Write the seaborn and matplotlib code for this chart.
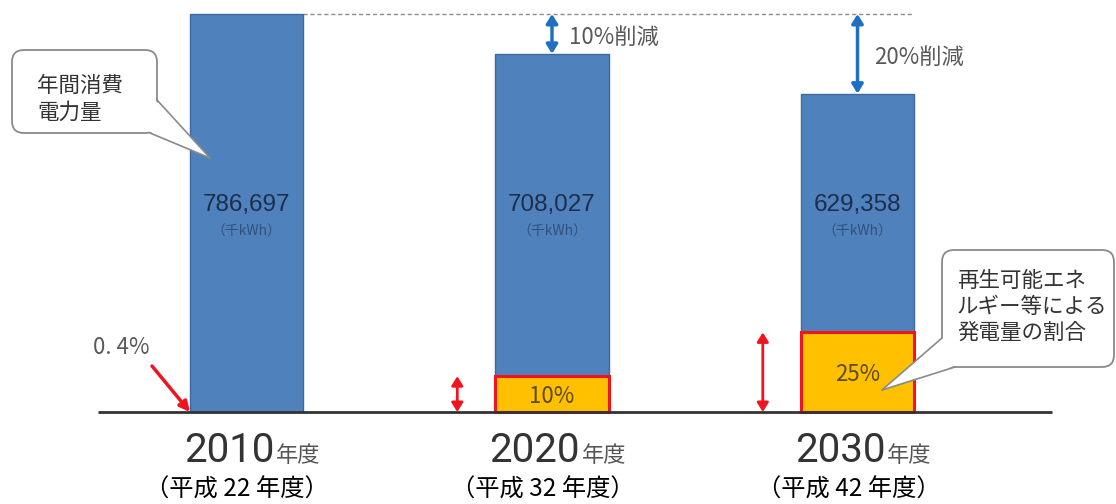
import numpy as np
import pandas as pd
import matplotlib
matplotlib.use("Agg")
import matplotlib.pyplot as plt
import matplotlib.transforms as mtransforms
from matplotlib.patches import FancyBboxPatch, Polygon
from matplotlib.lines import Line2D
import seaborn as sns

# ---------------- data ----------------
years = ["2010", "2020", "2030"]
heisei = ["（平成 22 年度）", "（平成 32 年度）", "（平成 42 年度）"]
consumption = [786697, 708027, 629358]          # 年間消費電力量（千kWh）
value_labels = ["786,697", "708,027", "629,358"]
renewable_share = [0.4, 10, 25]                  # 再生可能エネルギー等による発電量の割合（%）
reduction_pct = [0, 10, 20]                      # 2010年度比 削減率（%）

# ---------------- style ----------------
sns.set_theme(style="white")
plt.rcParams["font.family"] = ["Noto Sans CJK JP", "DejaVu Sans"]

W, H = 1116, 504
fig = plt.figure(figsize=(W / 100, H / 100), dpi=100)
ax = fig.add_axes([0, 0, 1, 1])

df = pd.DataFrame({"year": years, "kwh": consumption, "share": renewable_share})
df["renew"] = [c * s / 100 if s >= 1 else np.nan for c, s in zip(consumption, renewable_share)]

BAR_W = 0.37
BLUE, BLUE_EDGE = "#4F81BD", "#3C6A9E"
YELLOW, RED = "#FFC000", "#F0141E"

sns.barplot(data=df, x="year", y="kwh", order=years, color=BLUE, saturation=1,
            width=BAR_W, edgecolor=BLUE_EDGE, linewidth=1, errorbar=None, ax=ax, zorder=2)
sns.barplot(data=df, x="year", y="renew", order=years, color=YELLOW, saturation=1,
            width=BAR_W, edgecolor=RED, linewidth=2.2, errorbar=None, ax=ax, zorder=3)

# pixel <-> data layout helpers
X0, XSTEP = 246.5, 305.5
ypp = consumption[0] / 398.0
def px2x(px):
    return (px - X0) / XSTEP
def py2y(py):
    return (412 - py) * ypp

ax.set_xlim(px2x(0), px2x(W))
ax.set_ylim(py2y(H), py2y(0))
ax.axis("off")

pix = mtransforms.Affine2D().scale(1 / W, -1 / H).translate(0, 1) + fig.transFigure

# baseline
ax.plot([px2x(98), px2x(1052)], [0, 0], color="#333333", lw=2, zorder=4, solid_capstyle="butt")
# dashed reference line at 2010 level
ax.plot([BAR_W / 2, 2 + BAR_W / 2], [consumption[0]] * 2, color="#8C8C8C", lw=1,
        ls=(0, (3, 2)), zorder=1)

gray = "#595959"
for i in range(3):
    # values inside bars
    ax.text(i, py2y(205), value_labels[i], ha="center", va="center", fontsize=17.5,
            color="#1E2E4A", family=["Liberation Sans", "DejaVu Sans"], zorder=5)
    ax.text(i, py2y(232), "（千kWh）", ha="center", va="center", fontsize=10,
            color="#34507A", zorder=5)
    # x labels
    ax.text(i + 0.092, py2y(462), years[i], ha="right", va="baseline", fontsize=29,
            color="#333333", family=["Roboto", "Liberation Sans", "DejaVu Sans"])
    ax.text(i + 0.097, py2y(462), "年度", ha="left", va="baseline", fontsize=16,
            color="#555555")
    ax.text(i - 0.03, py2y(490), heisei[i], ha="center", va="center", fontsize=17.5,
            color="black")
    if i > 0:
        # reduction arrows
        ax.annotate("", xy=(i, consumption[i]), xytext=(i, consumption[0]),
                    arrowprops=dict(arrowstyle="<|-|>,head_length=0.45,head_width=0.28",
                                    color="#1F6FC5", lw=2.5, shrinkA=0, shrinkB=0), zorder=6)
        ax.text(i + 0.055, (consumption[0] + consumption[i]) / 2 - 4 * ypp,
                f"{reduction_pct[i]}%削減", ha="left", va="center", fontsize=16, color=gray)
        # renewable share arrows and labels
        r = consumption[i] * renewable_share[i] / 100
        ax.annotate("", xy=(i - 0.31, r), xytext=(i - 0.31, 0),
                    arrowprops=dict(arrowstyle="<|-|>,head_length=0.45,head_width=0.28",
                                    color=RED, lw=2, shrinkA=0, shrinkB=0), zorder=6)
        ax.text(i, r / 2 - 2 * ypp, f"{renewable_share[i]:g}%", ha="center", va="center",
                fontsize=16, color="#5C4B14", zorder=5)

# 0.4% label for 2010
ax.annotate("", xy=(-BAR_W / 2, 0), xytext=(px2x(152), py2y(366)),
            arrowprops=dict(arrowstyle="-|>,head_length=0.5,head_width=0.25",
                            color=RED, lw=2.5, shrinkA=0, shrinkB=0), zorder=6)
ax.text(px2x(121), py2y(347), f"{renewable_share[0]:g}%".replace(".", ". "),
        ha="center", va="center", fontsize=16, color=gray)

# callouts
ec = "#8A8A8A"
def callout(x, y, w, h, base1, base2, fill1, fill2, tip, lines, tx, ty0, dy):
    box = FancyBboxPatch((x, y), w, h, boxstyle="round,pad=0,rounding_size=12",
                         transform=pix, fc="white", ec=ec, lw=1.3, zorder=7)
    fig.add_artist(box)
    fig.add_artist(Polygon([fill1, fill2, tip], closed=True, transform=pix,
                           fc="white", ec="none", zorder=8))
    for b in (base1, base2):
        fig.add_artist(Line2D([b[0], tip[0]], [b[1], tip[1]], transform=pix,
                              color=ec, lw=1.2, zorder=9))
    for k, s in enumerate(lines):
        fig.text(tx, ty0 + k * dy, s, transform=pix, ha="left", va="center",
                 fontsize=15.5, color="#333333", zorder=10)

callout(12, 50, 145, 83, (157, 100), (150, 133), (154, 99), (148, 131), (210, 158),
        ["年間消費", "電力量"], 37, 86, 27)
callout(942, 250, 172, 117, (942, 338), (955, 367), (945, 336), (957, 365), (882, 390),
        ["再生可能エネ", "ルギー等による", "発電量の割合"], 957, 281, 26)

fig.savefig("out.png", dpi=100)
